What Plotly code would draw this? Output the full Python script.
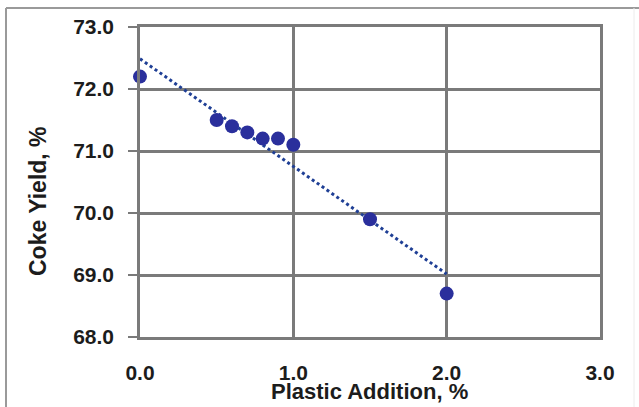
import numpy as np
import plotly.graph_objects as go

# Plastic addition (%) vs. coke yield (%)
plastic_addition = [0.0, 0.5, 0.6, 0.7, 0.8, 0.9, 1.0, 1.5, 2.0]
coke_yield = [72.2, 71.5, 71.4, 71.3, 71.2, 71.2, 71.1, 69.9, 68.7]

x_ticks = [0.0, 1.0, 2.0, 3.0]
y_ticks = [68.0, 69.0, 70.0, 71.0, 72.0, 73.0]

# Linear least-squares trend over the measured range
slope, intercept = np.polyfit(plastic_addition, coke_yield, 1)
trend_x = [min(plastic_addition), max(plastic_addition)]
trend_y = [slope * v + intercept for v in trend_x]

W, H = 639, 407
L, R, T, B = 140, 39, 27, 70
pw, ph = W - L - R, H - T - B

def px_to_paper_x(px):
    return (px - L) / pw

def px_to_paper_y(py):
    return (H - B - py) / ph

FONT = "Liberation Sans, Arial, sans-serif"
GRID = "#7a7a7a"
TEXT = "#1c1c1c"

fig = go.Figure()

fig.add_trace(go.Scatter(
    x=trend_x, y=trend_y, mode="lines",
    line=dict(color="#1f3f95", width=3, dash="dot"),
    hoverinfo="skip", showlegend=False,
))

fig.add_trace(go.Scatter(
    x=plastic_addition, y=coke_yield, mode="markers",
    marker=dict(color="#2a2f9c", size=14, line=dict(width=0)),
    cliponaxis=False, showlegend=False,
))

fig.update_layout(
    width=W, height=H,
    margin=dict(l=L, r=R, t=T, b=B, pad=0),
    paper_bgcolor="white", plot_bgcolor="white",
    font=dict(family=FONT, color=TEXT, size=21, weight="bold"),
    showlegend=False,
)

fig.update_xaxes(
    range=[0, 3], tickvals=x_ticks, ticktext=[f"{v:.1f}" for v in x_ticks],
    showgrid=True, gridcolor=GRID, gridwidth=2.5,
    showline=True, mirror=True, linecolor=GRID, linewidth=2.5,
    ticks="", ticklabelstandoff=15, zeroline=False,
    tickfont=dict(family=FONT, size=21, color=TEXT, weight="bold"),
)

fig.update_yaxes(
    range=[68, 73], tickvals=y_ticks, ticktext=[f"{v:.1f}" for v in y_ticks],
    showgrid=True, gridcolor=GRID, gridwidth=2.5,
    showline=True, mirror=True, linecolor=GRID, linewidth=2.5,
    ticks="outside", ticklen=9, tickwidth=2, tickcolor=GRID,
    ticklabelstandoff=10, zeroline=False,
    tickfont=dict(family=FONT, size=21, color=TEXT, weight="bold"),
)

# Axis titles
fig.add_annotation(
    text="Plastic Addition, %", xref="paper", yref="paper",
    x=px_to_paper_x(369), y=px_to_paper_y(391),
    xanchor="center", yanchor="middle", showarrow=False,
    font=dict(family=FONT, size=22, color=TEXT, weight="bold"),
)
fig.add_annotation(
    text="Coke Yield, %", xref="paper", yref="paper",
    x=px_to_paper_x(38), y=px_to_paper_y(201),
    xanchor="center", yanchor="middle", showarrow=False, textangle=-90,
    font=dict(family=FONT, size=23, color=TEXT, weight="bold"),
)

# Outer chart frame
frame = dict(color="#9a9a9a", width=2)
fig.add_shape(type="line", xref="paper", yref="paper",
              x0=px_to_paper_x(6), x1=px_to_paper_x(W + 2),
              y0=px_to_paper_y(8), y1=px_to_paper_y(8), line=frame)
fig.add_shape(type="line", xref="paper", yref="paper",
              x0=px_to_paper_x(6), x1=px_to_paper_x(6),
              y0=px_to_paper_y(8), y1=px_to_paper_y(H + 2), line=frame)
fig.add_shape(type="line", xref="paper", yref="paper",
              x0=px_to_paper_x(634), x1=px_to_paper_x(634),
              y0=px_to_paper_y(8), y1=px_to_paper_y(H + 2),
              line=dict(color="#ececec", width=1))

fig.write_html("out.html")
